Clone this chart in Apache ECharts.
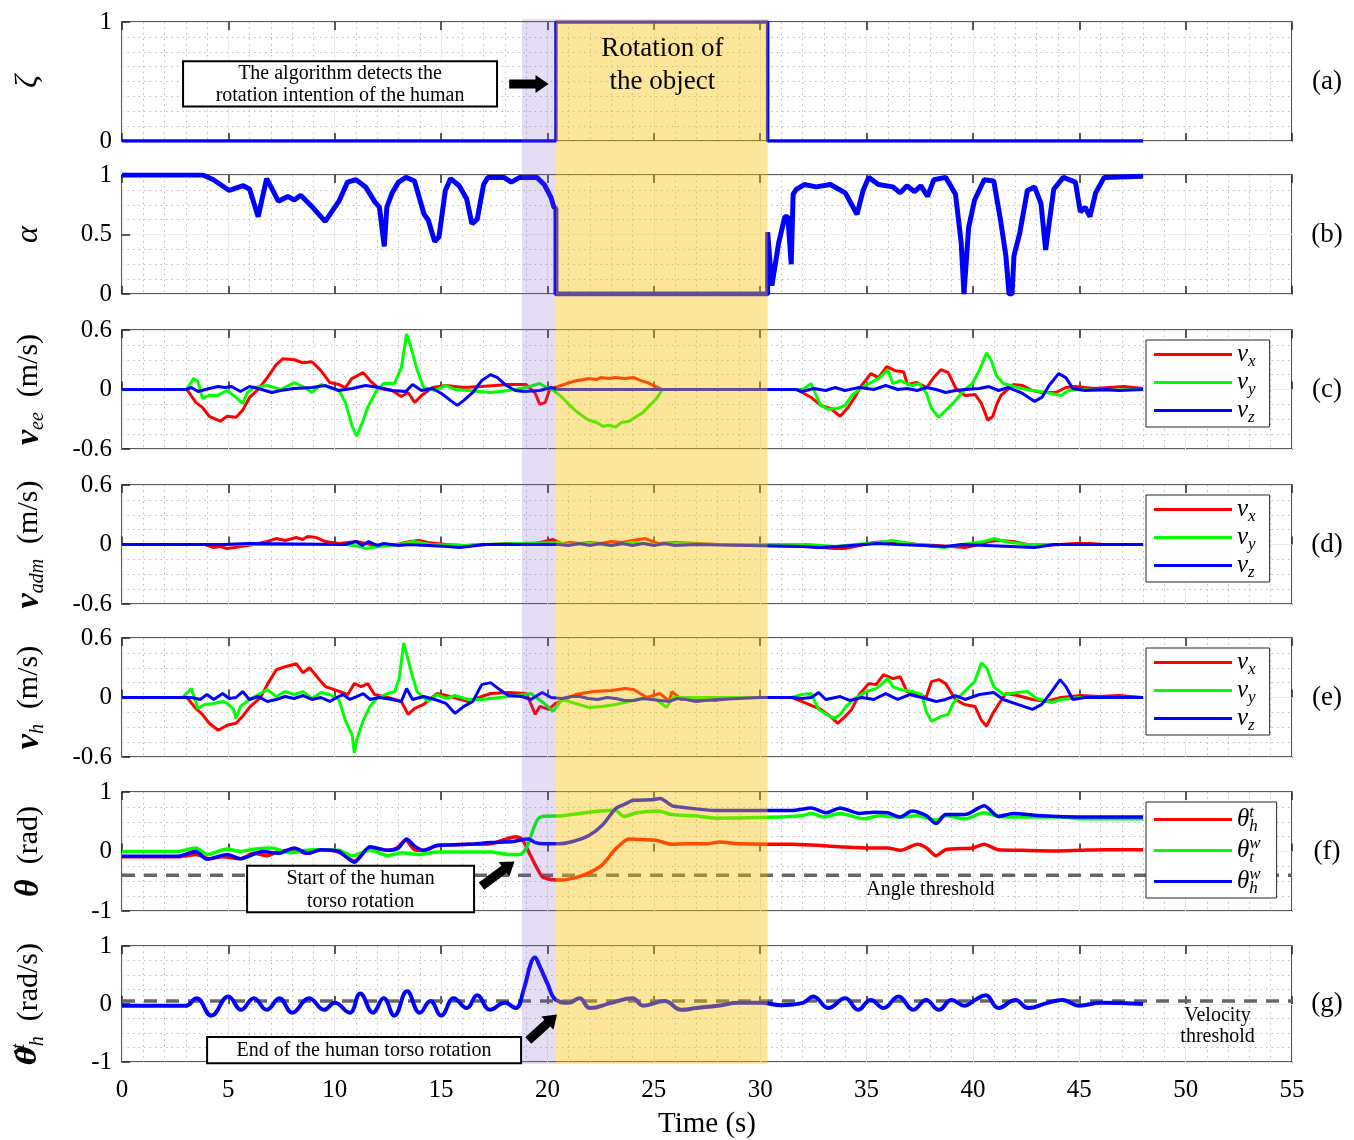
<!DOCTYPE html>
<html><head><meta charset="utf-8">
<script src="https://cdn.jsdelivr.net/npm/echarts@6/dist/echarts.min.js"></script>
<style>html,body{margin:0;padding:0;background:#fff}#c{width:1354px;height:1140px}</style>
</head><body><div id="c"></div><script>
const FONT = '"Liberation Serif", "DejaVu Serif", serif';
// ---------- data (time in s, value) ----------
const intentionStart = 18.8, rotationStart = 20.4, rotationEnd = 30.35;
const angleThreshold = -0.4, velocityThreshold = 0.05;
const zeta = [[0,0],[20.4,0],[20.4,1],[30.35,1],[30.35,0],[48,0]];
const alpha = [[0,1],[3.8,1],[4.3,0.96],[5.04,0.87],[5.7,0.91],[6.0,0.88],[6.4,0.65],[6.8,0.97],[7.35,0.78],[7.8,0.82],[8.1,0.79],[8.4,0.83],[8.9,0.74],[9.55,0.61],[10.2,0.78],[10.6,0.94],[11.0,0.96],[11.45,0.9],[11.9,0.77],[12.1,0.73],[12.33,0.4],[12.45,0.73],[12.7,0.85],[13.0,0.94],[13.35,0.98],[13.75,0.95],[14.2,0.67],[14.4,0.62],[14.7,0.44],[14.9,0.48],[15.2,0.87],[15.45,0.97],[15.85,0.91],[16.2,0.8],[16.45,0.59],[16.7,0.63],[17.0,0.92],[17.2,0.98],[17.95,0.98],[18.3,0.94],[18.7,0.98],[19.5,0.98],[19.85,0.92],[20.17,0.81],[20.3,0.73],[20.4,0.72],[20.4,0],[30.35,0],[30.35,0.52],[30.55,0.07],[30.87,0.43],[31.16,0.65],[31.3,0.65],[31.46,0.25],[31.55,0.84],[31.7,0.88],[32.07,0.92],[32.63,0.9],[33.3,0.92],[34.0,0.85],[34.55,0.67],[34.84,0.87],[35.1,0.98],[35.56,0.92],[36.24,0.9],[36.58,0.85],[36.9,0.91],[37.26,0.86],[37.55,0.91],[37.87,0.82],[38.16,0.96],[38.72,0.98],[39.18,0.84],[39.45,0.43],[39.58,0],[39.67,0],[39.8,0.56],[40.08,0.79],[40.53,0.96],[40.98,0.95],[41.3,0.62],[41.55,0.32],[41.7,0],[41.84,0],[41.93,0.32],[42.2,0.51],[42.56,0.87],[42.9,0.9],[43.2,0.76],[43.42,0.37],[43.58,0.59],[43.8,0.88],[44.25,0.98],[44.82,0.94],[45.05,0.69],[45.27,0.73],[45.5,0.65],[45.77,0.85],[46.17,0.98],[48,0.99]];
const veeX = [[0,0],[3.05,0],[3.47,-0.13],[3.78,-0.18],[4.1,-0.27],[4.62,-0.32],[4.94,-0.27],[5.36,-0.28],[5.67,-0.21],[6.0,-0.08],[6.4,0],[6.83,0.12],[7.25,0.25],[7.56,0.31],[8.1,0.3],[8.5,0.27],[8.93,0.28],[9.35,0.19],[9.77,0.07],[10.2,0.05],[10.5,0.02],[10.8,0.11],[11.34,0.17],[11.66,0.09],[12.08,0.01],[12.7,-0.01],[13.13,-0.07],[13.45,-0.03],[13.76,-0.13],[14.08,-0.06],[14.6,0.02],[15.23,0.04],[16.07,0.02],[16.9,0.03],[18.17,0.05],[19.0,0.05],[19.43,-0.04],[19.64,-0.15],[19.9,-0.13],[20.1,0],[20.5,0.03],[20.9,0.06],[21.2,0.08],[21.4,0.09],[21.7,0.1],[21.95,0.11],[22.3,0.1],[22.5,0.12],[22.9,0.11],[23.2,0.12],[23.6,0.11],[24.05,0.12],[24.4,0.09],[24.7,0.07],[25.1,0.03],[25.4,0],[31.7,0],[32.07,-0.04],[32.4,-0.08],[32.85,-0.16],[33.3,-0.19],[33.76,-0.27],[34.1,-0.19],[34.44,-0.08],[34.77,0.04],[35.2,0.16],[35.56,0.12],[35.95,0.23],[36.35,0.19],[36.74,0.18],[36.92,0.05],[37.37,0.07],[37.82,0.02],[38.16,0.12],[38.5,0.2],[38.84,0.17],[39.2,0.01],[39.63,-0.06],[40.1,-0.05],[40.4,-0.14],[40.7,-0.31],[40.94,-0.27],[41.1,-0.16],[41.32,-0.06],[41.9,0.05],[42.34,0.04],[42.8,-0.01],[43.24,-0.03],[43.9,-0.03],[44.37,0.02],[44.8,0.03],[45.7,0.01],[46.4,0.02],[47.1,0.03],[48,0.01]];
const veeY = [[0,0],[3.05,0],[3.36,0.11],[3.57,0.08],[3.78,-0.09],[4.1,-0.06],[4.5,-0.06],[4.94,-0.01],[5.36,-0.08],[5.67,-0.14],[5.9,-0.03],[6.2,0.02],[6.83,0.04],[7.46,0],[8.1,0.07],[8.5,0.03],[8.93,-0.03],[9.35,0.05],[9.77,0.02],[10.2,-0.01],[10.5,-0.13],[10.82,-0.37],[11.03,-0.47],[11.34,-0.31],[11.55,-0.18],[11.97,-0.01],[12.3,0.06],[12.8,0.06],[13.13,0.22],[13.38,0.56],[13.55,0.45],[13.87,0.2],[14.18,0.02],[14.7,-0.01],[15.23,0.04],[15.65,0],[16.28,-0.01],[17.33,-0.03],[18.17,-0.01],[19.0,0.02],[19.64,0.06],[19.96,0.02],[20.3,-0.01],[20.7,-0.08],[21.0,-0.15],[21.3,-0.21],[21.6,-0.26],[21.95,-0.31],[22.3,-0.33],[22.6,-0.37],[22.9,-0.36],[23.2,-0.38],[23.5,-0.33],[23.85,-0.32],[24.2,-0.27],[24.5,-0.23],[24.8,-0.16],[25.1,-0.1],[25.4,0],[32.0,0],[32.4,0.06],[32.63,-0.06],[32.85,-0.16],[33.2,-0.2],[33.65,-0.19],[34.0,-0.16],[34.3,-0.06],[34.77,0.02],[35.2,0.07],[35.56,0.11],[36.0,0.2],[36.24,0.06],[36.58,0.09],[37.14,0.04],[37.48,0.06],[37.82,-0.04],[38.05,-0.19],[38.39,-0.28],[38.72,-0.21],[39.06,-0.14],[39.29,-0.08],[39.63,0],[39.97,0.06],[40.3,0.19],[40.64,0.37],[40.87,0.29],[41.1,0.14],[41.43,0.06],[42.1,0.02],[42.8,-0.01],[43.46,-0.03],[44.14,-0.06],[44.5,-0.01],[45.04,0],[46.17,-0.01],[47.3,0],[48,0]];
const veeZ = [[0,0],[3.0,0],[3.26,0.02],[3.57,-0.02],[4.1,0.01],[4.52,0.03],[4.83,0.02],[5.15,0.03],[5.57,-0.02],[5.99,0.03],[6.41,0.01],[7.04,-0.03],[7.46,-0.01],[8.09,0.01],[8.93,0.02],[9.56,0.04],[10.19,-0.01],[10.82,0.01],[11.45,0.04],[12.08,0.02],[12.71,-0.01],[13.34,-0.02],[13.66,0.05],[14.08,-0.01],[14.6,0.01],[15.02,-0.04],[15.44,-0.11],[15.76,-0.16],[16.07,-0.11],[16.49,-0.03],[16.91,0.09],[17.33,0.15],[17.65,0.12],[18.07,0.04],[18.49,-0.01],[18.91,-0.02],[19.64,-0.01],[20.17,0.02],[20.5,0],[31.7,0],[31.95,-0.02],[32.52,0.01],[33.08,-0.01],[33.53,0.02],[33.98,-0.01],[34.66,0.02],[35.34,0],[35.9,0.04],[36.47,0],[36.92,0.01],[37.37,-0.01],[37.82,0.02],[38.27,0],[38.72,-0.03],[39.18,-0.01],[39.63,0],[40.3,0.01],[40.76,0.03],[41.21,-0.01],[41.66,0.02],[42.34,-0.04],[42.9,-0.12],[43.24,-0.08],[43.58,0.04],[44.03,0.16],[44.37,0.12],[44.7,0.01],[45.27,-0.01],[46.17,0],[46.85,-0.01],[48,0]];
const vadmX = [[0,0],[3.89,0],[4.31,-0.03],[4.6,-0.02],[4.94,-0.04],[5.3,-0.03],[5.57,-0.02],[6.2,0],[6.83,0.03],[7.25,0.06],[7.67,0.04],[8.19,0.07],[8.5,0.05],[8.72,0.08],[9.14,0.07],[9.56,0.03],[10.19,0.01],[10.61,0.02],[11.03,0.03],[11.66,0],[12.29,-0.01],[12.92,0],[13.55,0.03],[13.97,0.04],[14.39,0.02],[15.23,0],[16.07,-0.01],[17.33,0],[18.17,0.01],[19.43,0.01],[20.27,0.05],[20.69,0.01],[21.1,0.02],[21.5,0.01],[22.0,0.02],[22.5,0.01],[23.0,0.03],[23.5,0.02],[24.0,0.04],[24.6,0.06],[25.2,0.01],[26.0,0.02],[27.0,0.01],[28.0,0],[32.18,-0.02],[32.86,-0.03],[33.53,-0.04],[33.98,-0.04],[34.44,-0.02],[35.34,0.02],[36.02,0.03],[36.69,0.02],[37.37,0],[38.27,-0.01],[38.95,-0.02],[39.63,-0.03],[40.3,0],[40.76,0.03],[41.21,0.04],[41.89,0.03],[42.56,0],[43.24,-0.01],[44.14,0],[44.82,0.01],[45.5,0.01],[46.17,0],[48,0]];
const vadmY = [[0,0],[10.5,0],[11.2,-0.02],[11.45,-0.04],[12.08,-0.02],[13.0,0],[13.7,0.03],[14.5,0],[16.1,-0.01],[17,0],[20.3,0.02],[21,0],[22,0.01],[23,-0.01],[24,0.02],[25,0],[26,0.01],[28,0],[32.3,0],[33.5,-0.02],[35.5,0.02],[36.2,0.04],[37,0.01],[38.6,-0.03],[39.5,0],[40.5,0.03],[41,0.06],[41.5,0.03],[42.5,0],[48,0]];
const vadmZ = [[0,0],[4.8,0],[5.9,0.01],[10.5,0],[11.0,0.03],[11.3,-0.01],[11.6,0.03],[12.0,-0.01],[12.3,0.01],[13.0,-0.01],[13.5,0],[15.3,-0.02],[15.86,-0.03],[16.3,-0.02],[17,0],[20.5,0],[21.0,-0.01],[21.5,0.01],[22.0,-0.01],[22.5,0.01],[23.0,-0.01],[23.5,0.01],[24.0,-0.01],[24.5,0.01],[25.0,-0.01],[25.5,0.01],[26.0,-0.01],[27,0],[32,-0.02],[32.8,-0.03],[33.7,-0.02],[35.5,0.01],[38.7,-0.02],[39.5,0],[42.9,-0.03],[43.8,0],[48,0]];
const vhX = [[0,0],[3.05,0],[3.47,-0.11],[3.78,-0.17],[4.1,-0.26],[4.52,-0.33],[4.94,-0.28],[5.36,-0.26],[5.67,-0.19],[5.99,-0.1],[6.51,0],[6.83,0.13],[7.25,0.28],[7.67,0.31],[8.19,0.34],[8.51,0.25],[8.82,0.3],[9.24,0.19],[9.56,0.11],[9.98,0.08],[10.61,0.03],[10.92,0.14],[11.24,0.11],[11.55,0.14],[11.87,0.03],[12.5,0],[13.13,-0.04],[13.45,-0.17],[13.76,-0.11],[14.18,-0.07],[14.81,0.04],[15.44,0.01],[16.28,-0.04],[16.91,0.01],[17.33,0.04],[18.17,0.05],[19.01,0.04],[19.43,-0.17],[19.64,-0.09],[20.06,-0.12],[20.38,-0.06],[21.32,0.03],[22.16,0.06],[23.0,0.07],[23.63,0.09],[24.05,0.08],[24.68,0],[25.3,0.04],[25.73,-0.04],[25.85,0.06],[26.3,-0.02],[27.1,-0.01],[27.9,-0.03],[28.8,0],[31.5,0],[31.95,-0.04],[32.4,-0.08],[32.85,-0.12],[33.3,-0.19],[33.64,-0.26],[34.0,-0.19],[34.3,-0.12],[34.66,0.03],[35.1,0.14],[35.45,0.13],[35.8,0.23],[36.24,0.19],[36.58,0.21],[36.9,0.06],[37.37,0.03],[37.8,0],[38.05,0.16],[38.4,0.18],[38.72,0.14],[39.18,-0.02],[39.6,-0.07],[40.1,-0.09],[40.4,-0.23],[40.64,-0.29],[40.94,-0.16],[41.2,-0.07],[41.55,0.04],[42.1,0.02],[42.8,-0.02],[43.46,-0.04],[44.14,0],[45.04,0.02],[45.9,0.01],[46.85,0.02],[48,0]];
const vhY = [[0,0],[2.84,0],[3.26,0.09],[3.57,-0.11],[3.89,-0.07],[4.31,-0.06],[4.73,-0.04],[4.94,-0.06],[5.25,-0.12],[5.36,-0.21],[5.57,-0.09],[5.99,-0.02],[6.41,0.03],[6.83,0.08],[7.25,0.01],[7.67,0.06],[8.09,0.03],[8.51,0.06],[8.93,-0.01],[9.35,0.05],[9.77,0.03],[10.19,-0.02],[10.5,-0.23],[10.82,-0.38],[10.92,-0.56],[11.03,-0.43],[11.34,-0.23],[11.66,-0.09],[11.97,-0.01],[12.5,0.04],[12.82,0.06],[13.03,0.19],[13.24,0.55],[13.45,0.38],[13.66,0.21],[13.87,0.06],[14.39,-0.04],[14.81,0.03],[15.23,-0.01],[15.65,0.02],[16.28,-0.02],[16.91,-0.02],[17.75,0],[18.59,0.02],[19.22,0.04],[19.85,-0.06],[20.27,-0.14],[20.69,-0.02],[21.32,-0.06],[21.95,-0.1],[22.58,-0.09],[23.21,-0.07],[23.84,-0.04],[24.47,-0.01],[25.1,-0.02],[25.6,-0.1],[25.9,0],[27,0],[31.5,0],[31.95,0.03],[32.4,0.04],[32.75,-0.12],[33.1,-0.17],[33.5,-0.21],[33.76,-0.17],[34.0,-0.1],[34.44,-0.01],[35.0,0.06],[35.45,0.09],[36.0,0.19],[36.24,0.11],[36.58,0.08],[37.14,0.06],[37.6,0.03],[37.8,-0.14],[38.05,-0.24],[38.5,-0.19],[38.84,-0.17],[39.06,-0.06],[39.6,0.06],[40.08,0.16],[40.4,0.35],[40.64,0.3],[40.98,0.11],[41.43,0.03],[42.1,0.05],[42.56,0.06],[43.0,-0.01],[43.7,-0.05],[44.14,-0.02],[45,0],[48,0]];
const vhZ = [[0,0],[2.84,0],[3.26,0],[3.68,-0.02],[3.99,0.03],[4.31,-0.02],[4.73,0.04],[5.04,-0.01],[5.36,0],[5.67,0.06],[5.99,-0.02],[6.41,0.01],[6.83,-0.04],[7.25,-0.02],[7.67,0.01],[8.09,-0.01],[8.51,0.02],[8.93,-0.02],[9.35,0],[9.77,-0.04],[10.08,0],[10.4,0.03],[10.71,-0.02],[11.03,0.01],[11.34,0.04],[11.66,-0.02],[12.08,0],[12.71,-0.02],[13.13,-0.04],[13.38,0.09],[13.66,-0.02],[14.18,0.01],[14.71,-0.02],[15.23,-0.06],[15.65,-0.16],[16.07,-0.09],[16.49,-0.04],[16.91,0.13],[17.33,0.15],[17.75,0.08],[18.17,0.02],[18.8,0.01],[19.22,-0.02],[19.75,0.05],[20.17,0],[20.69,-0.01],[21.1,0.01],[21.53,0.01],[21.9,-0.01],[22.37,-0.02],[22.8,0],[23.21,-0.01],[23.6,-0.03],[24.05,-0.03],[24.5,-0.01],[24.89,-0.02],[25.3,-0.03],[25.73,-0.04],[26.1,-0.01],[26.5,-0.02],[27.0,-0.04],[27.4,-0.03],[28,-0.02],[29,-0.01],[30,0],[31.5,0],[31.95,-0.01],[32.4,0],[32.75,0.05],[33.08,-0.02],[33.76,0.01],[34.2,-0.03],[34.77,0],[35.34,-0.02],[35.9,0.04],[36.47,-0.02],[37.02,0.03],[37.6,0],[38.27,-0.04],[38.72,-0.02],[39.18,0.02],[39.63,-0.02],[40.3,0.03],[40.98,0.05],[41.43,-0.02],[42.1,-0.07],[42.8,-0.12],[43.24,-0.07],[43.7,0.06],[44.1,0.18],[44.37,0.11],[44.7,-0.02],[45.27,0],[46.17,0],[48,0]];
const thHT = [[0,-0.09],[2.6,-0.09],[3.05,-0.07],[3.47,-0.05],[4.1,-0.12],[4.73,-0.09],[5.57,-0.12],[6.2,-0.03],[6.83,-0.07],[7.35,0],[8.1,0.02],[8.72,-0.03],[9.35,0.03],[10.19,-0.01],[10.92,-0.16],[11.66,0.06],[12.5,0.02],[12.92,0.06],[13.34,0.19],[13.76,0.03],[14.18,0.02],[14.81,0.1],[16.28,0.12],[17.33,0.13],[17.96,0.2],[18.5,0.25],[18.8,0.21],[19.22,-0.08],[19.54,-0.3],[19.75,-0.42],[20.17,-0.47],[20.69,-0.48],[21.32,-0.44],[21.95,-0.36],[22.58,-0.22],[23.2,0.04],[23.84,0.21],[24.47,0.2],[25.1,0.19],[25.85,0.12],[26.5,0.13],[27.5,0.13],[28.1,0.16],[29,0.13],[31.5,0.12],[32.85,0.1],[33.76,0.08],[35.1,0.06],[36.0,0.06],[36.58,0.02],[37.4,0.12],[37.82,0.06],[38.27,-0.07],[38.72,0.03],[40.0,0.06],[40.53,0.12],[41.2,0.03],[42.34,0.02],[43.9,0.01],[45.04,0.02],[46.17,0.03],[48,0.03]];
const thTW = [[0,0],[2.6,0],[3.47,0.06],[4.0,-0.05],[4.94,0.04],[5.57,0],[6.2,0.04],[7.04,0.06],[7.88,-0.02],[8.93,0.03],[10.19,0.02],[10.82,-0.07],[11.66,0.02],[12.5,-0.07],[13.13,-0.02],[13.97,-0.05],[14.81,-0.01],[16.28,-0.01],[17.33,-0.01],[18.17,-0.05],[18.7,-0.05],[19.01,0.06],[19.33,0.37],[19.54,0.54],[19.75,0.59],[20.69,0.6],[21.53,0.64],[22.8,0.69],[23.2,0.69],[23.6,0.59],[24.2,0.65],[25.2,0.68],[25.85,0.62],[26.9,0.6],[27.9,0.56],[30,0.57],[31.95,0.6],[32.4,0.64],[32.97,0.58],[33.76,0.64],[34.9,0.55],[35.6,0.6],[36.58,0.58],[37.4,0.6],[38.27,0.53],[38.72,0.6],[39.63,0.55],[40.53,0.65],[41.2,0.59],[42.8,0.58],[44.14,0.58],[45.04,0.55],[48,0.55]];
const thHW = [[0,-0.08],[2.6,-0.08],[3.47,0],[4.0,-0.13],[4.94,-0.05],[5.57,-0.12],[6.62,0],[7.35,-0.03],[8.1,0.06],[8.72,-0.03],[9.35,0.03],[10.19,0],[10.92,-0.18],[11.66,0.08],[12.5,0.02],[13.0,0.06],[13.38,0.21],[13.76,0.09],[14.18,0.02],[14.81,0.1],[16.28,0.12],[17.33,0.15],[18.4,0.17],[19.1,0.21],[19.43,0.15],[19.85,0.13],[20.5,0.13],[21.1,0.16],[21.95,0.27],[22.6,0.45],[23.2,0.72],[23.6,0.79],[24.05,0.86],[24.9,0.87],[25.3,0.89],[25.85,0.77],[26.4,0.74],[27.9,0.69],[30,0.69],[31.5,0.69],[32.4,0.73],[33.1,0.65],[33.76,0.73],[34.66,0.64],[35.34,0.66],[36.0,0.65],[36.58,0.58],[37.14,0.68],[37.82,0.6],[38.27,0.47],[38.72,0.62],[39.63,0.62],[40.53,0.77],[41.2,0.59],[41.9,0.64],[43.24,0.6],[45.04,0.58],[48,0.58]];
const thDot = [[0,-0.03],[3.0,-0.03],[3.5,0.1],[4.2,-0.2],[5.0,0.13],[5.6,-0.1],[6.2,0.1],[6.8,-0.1],[7.4,0.1],[8.0,-0.15],[8.8,0.1],[9.5,-0.1],[10.0,0.02],[10.7,-0.15],[11.2,0.18],[11.8,-0.15],[12.3,0.1],[12.8,-0.2],[13.4,0.22],[14.0,-0.15],[14.5,0.05],[15.0,-0.2],[15.6,0.1],[16.2,-0.07],[16.7,0.15],[17.3,-0.1],[18.0,0.02],[18.5,-0.07],[18.9,0.27],[19.2,0.68],[19.4,0.8],[19.6,0.68],[20.0,0.35],[20.4,0.07],[21.0,0.02],[21.5,0.1],[22.0,-0.07],[23.0,0.02],[24.0,0.1],[24.5,-0.03],[25.5,0.05],[26.3,-0.1],[27.0,-0.07],[28.0,-0.03],[29.0,0.02],[30.0,0.02],[31.0,-0.02],[32.0,0.02],[32.5,0.13],[33.2,-0.07],[34.0,0.1],[34.6,-0.1],[35.2,0.07],[35.8,-0.07],[36.5,0.13],[37.2,-0.1],[37.8,0.07],[38.4,-0.1],[39.0,0.07],[39.6,-0.03],[40.1,0.07],[40.6,0.15],[41.2,-0.07],[42.0,0.07],[42.6,-0.07],[43.5,0.02],[44.2,0.07],[45.0,-0.03],[46.0,0.02],[48,0]];

// ---------- layout ----------
const L = 122, W = 1170, H = 119;
const TOPS = [22, 175, 330, 485, 638, 792, 946];
const yMin = [0, 0, -0.6, -0.6, -0.6, -1, -1];
const yMax = [1, 1, 0.6, 0.6, 0.6, 1, 1];
const yInt = [1, 0.5, 0.6, 0.6, 0.6, 1, 1];
const yMinorSplit = [8, 4, 4, 4, 4, 4, 4];
const panelLabels = ['(a)', '(b)', '(c)', '(d)', '(e)', '(f)', '(g)'];
const RED = '#ff0000', GREEN = '#00ff00', BLUE = '#0000ff';

const subSty = {fontFamily: FONT, fontStyle: 'italic', fontSize: 20, verticalAlign: 'bottom', lineHeight: 16};
const supSty = {fontFamily: FONT, fontStyle: 'italic', fontSize: 18, verticalAlign: 'top', lineHeight: 14, width: 0, align: 'left'};
const nameRich = {
  i: {fontFamily: FONT, fontStyle: 'italic', fontSize: 32, lineHeight: 38},
  bv: {fontFamily: FONT, fontStyle: 'italic', fontWeight: 'bold', fontSize: 34, lineHeight: 38},
  bd: {fontFamily: '"DejaVu Serif", serif', fontStyle: 'italic', fontWeight: 'bold', fontSize: 28, lineHeight: 38},
  sb: subSty, sp: supSty,
  n: {fontFamily: FONT, fontSize: 30, lineHeight: 38}
};
const yNames = ['{i|ζ}', '{i|α}', '{bv|v}{sb|ee}{n|  (m/s)}', '{bv|v}{sb|adm}{n|  (m/s)}', '{bv|v}{sb|h}{n|  (m/s)}',
  '{bv|θ}{n|  (rad)}', '{bd|θ\u0307}{sp|t}{sb|h}{n|  (rad/s)}'];

const grids = [], xAxes = [], yAxes = [];
for (let i = 0; i < 7; i++) {
  grids.push({left: L, width: W, top: TOPS[i], height: H, show: true, borderColor: '#262626', borderWidth: 1.5, backgroundColor: 'transparent'});
  const last = i === 6;
  xAxes.push({type: 'value', gridIndex: i, min: 0, max: 55, interval: 5, position: 'bottom',
    axisLine: {show: false}, axisTick: {show: true, inside: true, length: 8, lineStyle: {color: '#262626', width: 1.5}},
    axisLabel: {show: last, fontFamily: FONT, fontSize: 25, color: '#000', margin: 16},
    splitLine: {show: true, lineStyle: {color: '#ebebeb', width: 1}},
    minorTick: {show: true, splitNumber: 5, length: 0},
    minorSplitLine: {show: true, lineStyle: {color: '#bdbdbd', width: 1, type: [1.5, 4]}},
    name: last ? 'Time (s)' : '', nameLocation: 'middle', nameGap: 48,
    nameTextStyle: {fontFamily: FONT, fontSize: 29, color: '#000'}});
  xAxes.push({type: 'value', gridIndex: i, min: 0, max: 55, interval: 5, position: 'top',
    axisLine: {show: false}, axisTick: {show: true, inside: true, length: 8, lineStyle: {color: '#262626', width: 1.5}},
    axisLabel: {show: false}, splitLine: {show: false}});
  yAxes.push({type: 'value', gridIndex: i, min: yMin[i], max: yMax[i], interval: yInt[i],
    axisLine: {show: false}, axisTick: {show: true, inside: true, length: 8, lineStyle: {color: '#262626', width: 1.5}},
    axisLabel: {fontFamily: FONT, fontSize: 25, color: '#000', margin: 10},
    splitLine: {show: true, lineStyle: {color: '#ebebeb', width: 1}},
    minorTick: {show: true, splitNumber: yMinorSplit[i], length: 0},
    minorSplitLine: {show: true, lineStyle: {color: '#bdbdbd', width: 1, type: [1.5, 4]}},
    name: yNames[i], nameLocation: 'middle', nameRotate: 90, nameGap: 74,
    nameTextStyle: {color: '#000', rich: nameRich}});
}

function ln(i, name, data, color, width, extra) {
  return Object.assign({type: 'line', name, xAxisIndex: 2 * i, yAxisIndex: i, data, symbol: 'none', showSymbol: false,
    lineStyle: {color, width}, itemStyle: {color}, animation: false, z: 3}, extra || {});
}
const series = [
  ln(0, 'zeta', zeta, BLUE, 3.5),
  ln(1, 'alpha', alpha, BLUE, 5),
  ln(2, 'vx@c', veeX, RED, 3), ln(2, 'vy@c', veeY, GREEN, 3), ln(2, 'vz@c', veeZ, BLUE, 3),
  ln(3, 'vx@d', vadmX, RED, 3), ln(3, 'vy@d', vadmY, GREEN, 3), ln(3, 'vz@d', vadmZ, BLUE, 3),
  ln(4, 'vx@e', vhX, RED, 3), ln(4, 'vy@e', vhY, GREEN, 3), ln(4, 'vz@e', vhZ, BLUE, 3),
  ln(5, 'angthr', [[0, angleThreshold], [55, angleThreshold]], '#666666', 3, {lineStyle: {color: '#666666', width: 3.5, type: [13, 9]}}),
  ln(5, 'tht@f', thHT, RED, 3.5, {smooth: 0.25}), ln(5, 'thw@f', thTW, GREEN, 3.5, {smooth: 0.25}), ln(5, 'thhw@f', thHW, BLUE, 3.5, {smooth: 0.25}),
  ln(6, 'velthr', [[0, velocityThreshold], [55, velocityThreshold]], '#666666', 3, {lineStyle: {color: '#666666', width: 3.5, type: [13, 9]}}),
  ln(6, 'thdot', thDot, BLUE, 4, {smooth: 0.45})
];

const legRich = {
  v: {fontFamily: FONT, fontStyle: 'italic', fontSize: 25, lineHeight: 31},
  s: {fontFamily: FONT, fontStyle: 'italic', fontSize: 17, verticalAlign: 'bottom', lineHeight: 14},
  p: {fontFamily: FONT, fontStyle: 'italic', fontSize: 17, verticalAlign: 'top', lineHeight: 14, width: 0, align: 'left'}
};
const legLabel = {vx: '{v|v}{s|x}', vy: '{v|v}{s|y}', vz: '{v|v}{s|z}', tht: '{v|θ}{p|t}{s|h}', thw: '{v|θ}{p|w}{s|t}', thhw: '{v|θ}{p|w}{s|h}'};
function legend(panel, suffix, keys, topOff, padR) {
  return {orient: 'vertical', left: 1146, top: TOPS[panel] + topOff, itemWidth: 78, itemHeight: 3, icon: 'rect', itemGap: 0,
    padding: [2, padR, 1, 8], borderColor: '#262626', borderWidth: 1, backgroundColor: '#fff', selectedMode: false,
    data: keys.map(k => k + '@' + suffix), formatter: n => legLabel[n.split('@')[0]],
    textStyle: {color: '#000', rich: legRich}, z: 5};
}
const legends = [
  legend(2, 'c', ['vx', 'vy', 'vz'], 10, 14),
  legend(3, 'd', ['vx', 'vy', 'vz'], 10, 14),
  legend(4, 'e', ['vx', 'vy', 'vz'], 10, 14),
  legend(5, 'f', ['tht', 'thw', 'thhw'], 10, 16)
];

const chart = echarts.init(document.getElementById('c'));
chart.setOption({animation: false, grid: grids, xAxis: xAxes, yAxis: yAxes, series, legend: legends});

// ---------- overlays placed through the axes ----------
const P = (g, t, v) => chart.convertToPixel({gridIndex: g}, [t, v]);
const els = [];
const topY = P(0, 0, 1)[1] - 3, botY = P(6, 0, -1)[1] + 2;
const x1 = P(0, intentionStart, 0)[0], x2 = P(0, rotationStart, 0)[0], x3 = P(0, rotationEnd, 0)[0];
els.push({type: 'rect', z: 100, shape: {x: x1, y: topY, width: x2 - x1, height: botY - topY}, style: {fill: 'rgba(126,87,194,0.2)'}});
els.push({type: 'rect', z: 100, shape: {x: x2, y: topY, width: x3 - x2, height: botY - topY}, style: {fill: 'rgba(250,190,0,0.4)'}});

function txt(x, y, s, size) {
  els.push({type: 'text', z: 120, style: {text: s, x, y, fill: '#000', font: size + 'px ' + FONT, align: 'center', verticalAlign: 'middle'}});
}
function box(g, t0, v0, t1, v1, lines, size) {
  const a = P(g, t0, v0), b = P(g, t1, v1);
  els.push({type: 'rect', z: 110, shape: {x: a[0], y: a[1], width: b[0] - a[0], height: b[1] - a[1]}, style: {fill: '#fff', stroke: '#000', lineWidth: 2}});
  const cx = (a[0] + b[0]) / 2, h = (b[1] - a[1]) / lines.length;
  lines.forEach((s, k) => txt(cx, a[1] + h * (k + 0.5) + 1, s, size));
}
function arrow(g, t0, v0, t1, v1) {
  const a = P(g, t0, v0), b = P(g, t1, v1);
  const dx = b[0] - a[0], dy = b[1] - a[1], len = Math.hypot(dx, dy), ux = dx / len, uy = dy / len, nx = -uy, ny = ux;
  const hw = 4.5, hh = 9, hl = 13;
  const bx = b[0] - ux * hl, by = b[1] - uy * hl;
  els.push({type: 'polygon', z: 115, shape: {points: [
    [a[0] + nx * hw, a[1] + ny * hw], [bx + nx * hw, by + ny * hw], [bx + nx * hh, by + ny * hh], [b[0], b[1]],
    [bx - nx * hh, by - ny * hh], [bx - nx * hw, by - ny * hw], [a[0] - nx * hw, a[1] - ny * hw]]}, style: {fill: '#000'}});
}
box(0, 2.87, 0.67, 17.63, 0.29, ['The algorithm detects the', 'rotation intention of the human'], 20);
arrow(0, 18.2, 0.48, 20.05, 0.48);
const r1 = P(0, 25.4, 0.77), r2 = P(0, 25.4, 0.5);
txt(r1[0], r1[1], 'Rotation of', 27); txt(r2[0], r2[1], 'the object', 27);
box(5, 5.88, -0.24, 16.55, -1.02, ['Start of the human', 'torso rotation'], 20);
arrow(5, 16.9, -0.58, 18.45, -0.17);
const at = P(5, 38.0, -0.65); txt(at[0], at[1], 'Angle threshold', 20);
box(6, 4.0, -0.57, 18.76, -1.02, ['End of the human torso rotation'], 20);
arrow(6, 19.1, -0.63, 20.45, -0.18);
const vt1 = P(6, 51.5, -0.2), vt2 = P(6, 51.5, -0.57);
txt(vt1[0], vt1[1], 'Velocity', 20); txt(vt2[0], vt2[1], 'threshold', 20);
for (let i = 0; i < 7; i++) {
  const p = P(i, 55, (yMin[i] + yMax[i]) / 2);
  txt(p[0] + 35, p[1], panelLabels[i], 27);
}
chart.setOption({graphic: {elements: els}});
</script></body></html>
